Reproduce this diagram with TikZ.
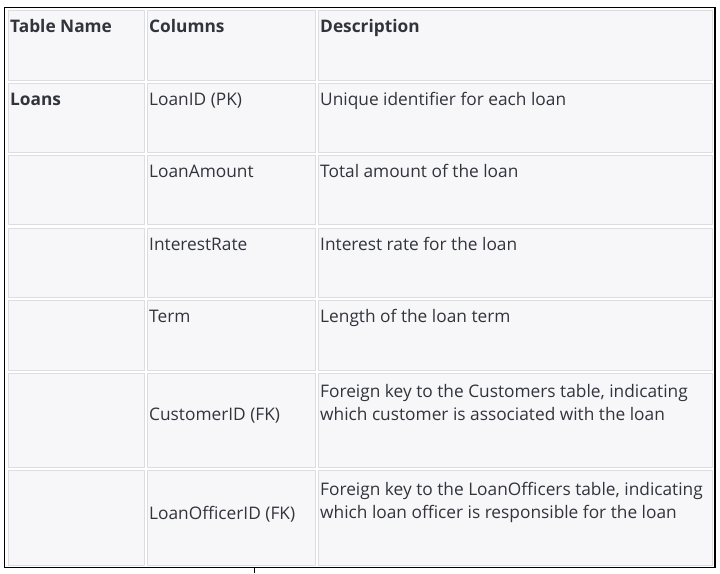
\documentclass[tikz,border=0pt]{standalone}
\usepackage{fontspec}
\setmainfont{Open Sans}
\definecolor{cellfill}{RGB}{247,247,250}
\definecolor{cellline}{RGB}{220,220,226}
\definecolor{ink}{RGB}{50,52,60}
\tikzset{
  cell/.style={fill=cellfill, draw=cellline, line width=1pt},
  txt/.style={anchor=base west, inner sep=0pt, text=ink, font=\fontsize{17.3}{20}\selectfont},
  hd/.style={txt, font=\fontsize{17.3}{20}\selectfont\bfseries}
}
\begin{document}
\begin{tikzpicture}[x=1pt, y=-1pt]
			\useasboundingbox (0,0) rectangle (720,573);
			\fill[white] (0,0) rectangle (720,573);
			% header row
			\filldraw[cell] (8,10) rectangle (144,80);
			\filldraw[cell] (147,10) rectangle (315,80);
			\filldraw[cell] (318,10) rectangle (712,80);
			% Loans rows
			\filldraw[cell] (8,83) rectangle (144,152);
			\filldraw[cell] (147,83) rectangle (315,152);
			\filldraw[cell] (318,83) rectangle (712,152);
			\filldraw[cell] (8,155) rectangle (144,224);
			\filldraw[cell] (147,155) rectangle (315,224);
			\filldraw[cell] (318,155) rectangle (712,224);
			\filldraw[cell] (8,228) rectangle (144,297);
			\filldraw[cell] (147,228) rectangle (315,297);
			\filldraw[cell] (318,228) rectangle (712,297);
			\filldraw[cell] (8,300) rectangle (144,370);
			\filldraw[cell] (147,300) rectangle (315,370);
			\filldraw[cell] (318,300) rectangle (712,370);
			\filldraw[cell] (8,373) rectangle (144,467);
			\filldraw[cell] (147,373) rectangle (315,467);
			\filldraw[cell] (318,373) rectangle (712,467);
			\filldraw[cell] (8,470) rectangle (144,565);
			\filldraw[cell] (147,470) rectangle (315,565);
			\filldraw[cell] (318,470) rectangle (712,565);
			% outer frame
			\draw[line width=1.5pt] (4.5,7.5) rectangle (715,567.5);
			\draw[line width=1pt] (254.5,567.5) -- (254.5,573);
			% texts
			\node[hd] (tname) at (10,32) {Table Name};
			\node[hd] (tcols) at (149,32) {Columns};
			\node[hd] (tdesc) at (320,32) {Description};
			\node[hd] (loans) at (10,105) {Loans};
			\node[txt] (loanid) at (149,105) {LoanID (PK)};
			\node[txt] (loaniddesc) at (320,105) {Unique identifier for each loan};
			\node[txt] (amount) at (149,177) {LoanAmount};
			\node[txt] (amountdesc) at (320,177) {Total amount of the loan};
			\node[txt] (rate) at (149,250) {InterestRate};
			\node[txt] (ratedesc) at (320,250) {Interest rate for the loan};
			\node[txt] (term) at (149,322) {Term};
			\node[txt] (termdesc) at (320,322) {Length of the loan term};
			\node[txt] (custid) at (149,420) {CustomerID (FK)};
			\node[txt] (custdesca) at (320,397) {Foreign key to the Customers table, indicating};
			\node[txt] (custdescb) at (320,420) {which customer is associated with the loan};
			\node[txt] (offid) at (149,519) {LoanOfficerID (FK)};
			\node[txt] (offdesca) at (320,495) {Foreign key to the LoanOfficers table, indicating};
			\node[txt] (offdescb) at (320,518) {which loan officer is responsible for the loan};
\end{tikzpicture}
\end{document}
